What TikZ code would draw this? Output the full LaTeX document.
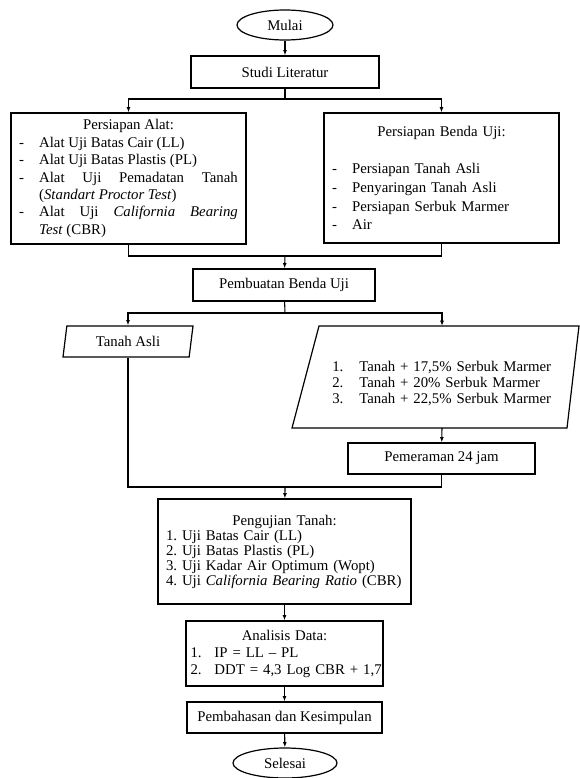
\documentclass[tikz,border=0pt]{standalone}
\usepackage{fontspec}
\setmainfont{Liberation Serif}
\usepackage{tikz}
\usetikzlibrary{arrows.meta,shapes.geometric}
\newcommand{\itm}[3][15pt]{\par\noindent\hangindent=#1\hangafter=1\makebox[#1][l]{#2}#3\par}

\begin{document}
\begin{tikzpicture}[x=0.75pt,y=-0.75pt,
	font=\fontsize{11.1}{13}\selectfont,
	kotak/.style={draw,line width=0.9pt,inner sep=0pt,align=center},
	ujung/.style={draw,ellipse,line width=0.9pt,inner sep=0pt,minimum height=22.5pt},
	garis/.style={line width=0.8pt},
	panah/.style={line width=0.8pt,-{Latex[length=4pt,width=3pt]}}]
	\useasboundingbox (0,0) rectangle (580,778);
	\node[ujung,minimum width=72pt] (mulai) at (285,25) {Mulai};
	\node[kotak,minimum width=141pt,minimum height=24pt] (studi) at (285,72) {Studi Literatur};
	\node[kotak,minimum width=176.25pt,minimum height=98.25pt,text width=164pt,align=justify,font=\fontsize{11.1}{13.1}\selectfont] (alat) at (128.5,178.5) {{\centering Persiapan Alat:\par}
		\itm{-}{Alat Uji Batas Cair (LL)}
		\itm{-}{Alat Uji Batas Plastis (PL)}
		\itm{-}{Alat Uji Pemadatan Tanah\linebreak(\textit{Standart Proctor Test})}
		\itm{-}{Alat Uji \textit{California Bearing}\linebreak\textit{Test} (CBR)}};
	\node[kotak,minimum width=176.25pt,minimum height=97.5pt,text width=164pt,align=left,font=\fontsize{11.1}{14}\selectfont] (benda) at (441.5,178) {{\centering Persiapan Benda Uji:\par}
		\null\par
		\itm{-}{Persiapan Tanah Asli}
		\itm{-}{Penyaringan Tanah Asli}
		\itm{-}{Persiapan Serbuk Marmer}
		\itm{-}{Air}};
	\node[kotak,minimum width=136.5pt,minimum height=24pt] (buat) at (284,285) {Pembuatan Benda Uji};
	\node[draw,trapezium,trapezium left angle=79,trapezium right angle=101,trapezium stretches=true,line width=0.9pt,inner sep=0pt,minimum width=97.5pt,minimum height=23.25pt] (tanah) at (128,341.5) {Tanah Asli};
	\draw[line width=0.9pt] (319,326) -- (579,326) -- (567,428) -- (292,428) -- cycle;
	\coordinate (campatas) at (442,326);
	\coordinate (campbawah) at (442,428);
	\node[anchor=west,inner sep=0pt,text width=168pt,align=left,font=\fontsize{11.1}{12}\selectfont] (campur) at (332,381) {\itm[20.25pt]{1.}{Tanah + 17,5\% Serbuk Marmer}
		\itm[20.25pt]{2.}{Tanah + 20\% Serbuk Marmer}
		\itm[20.25pt]{3.}{Tanah + 22,5\% Serbuk Marmer}};
	\node[kotak,minimum width=140.25pt,minimum height=23.25pt] (peram) at (441.5,458.5) {Pemeraman 24 jam};
	\node[kotak,minimum width=189.75pt,minimum height=78.75pt,text width=177.75pt,align=left,font=\fontsize{11.1}{11.25}\selectfont] (uji) at (284.5,551.5) {{\centering Pengujian Tanah:\par}
		\itm[12pt]{1.}{Uji Batas Cair (LL)}
		\itm[12pt]{2.}{Uji Batas Plastis (PL)}
		\itm[12pt]{3.}{Uji Kadar Air Optimum (Wopt)}
		\itm[12pt]{4.}{Uji \textit{California Bearing Ratio} (CBR)}};
	\node[kotak,minimum width=147.75pt,minimum height=48.75pt,text width=141pt,align=left,font=\fontsize{11.1}{12.75}\selectfont] (analisis) at (284.5,653.5) {{\centering Analisis Data:\par}
		\itm[18pt]{1.}{IP = LL -- PL}
		\itm[18pt]{2.}{\mbox{DDT = 4,3 Log CBR + 1,7}}};
	\node[kotak,minimum width=146.25pt,minimum height=23.25pt] (bahas) at (284.5,717.5) {Pembahasan dan Kesimpulan};
	\node[ujung,minimum width=78pt] (selesai) at (285,763) {Selesai};
	\draw[panah] (mulai) -- (studi);
	\coordinate (cab1) at (285,99);
	\draw[garis] (studi) -- (cab1);
	\draw[panah] (cab1) -| (alat);
	\draw[panah] (cab1) -| (benda);
	\coordinate (gab1) at (285,256);
	\draw[garis] (alat) |- (gab1) -| (benda);
	\draw[panah] (gab1) -- (buat);
	\coordinate (cab2) at (285,313);
	\draw[garis] (buat) -- (cab2);
	\draw[panah] (cab2) -| (tanah);
	\draw[panah] (cab2) -| (campatas);
	\draw[panah] (campbawah) -- (peram);
	\coordinate (gab2) at (285,487);
	\draw[garis] (tanah) |- (gab2) -| (peram);
	\draw[panah] (gab2) -- (uji);
	\foreach \a/\b in {uji/analisis,analisis/bahas,bahas/selesai}{
		\draw[panah] (\a) -- (\b);}
\end{tikzpicture}
\end{document}
